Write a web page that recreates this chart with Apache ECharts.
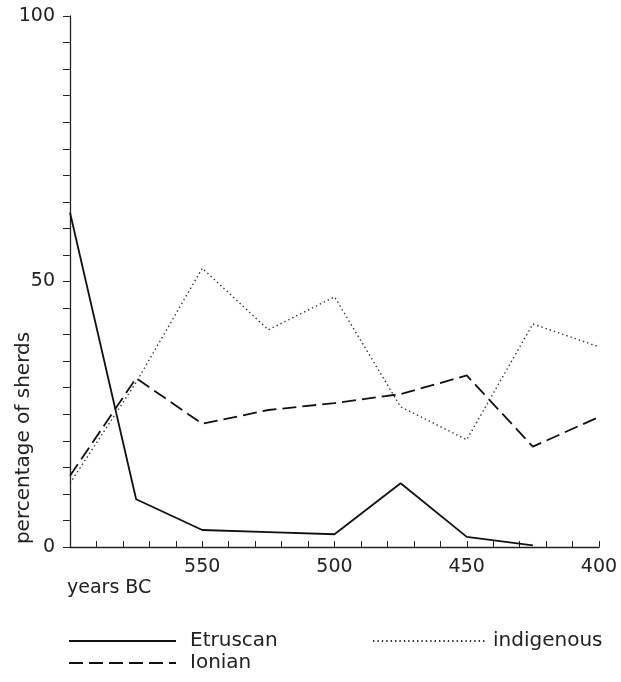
<!DOCTYPE html>
<html>
<head>
<meta charset="utf-8">
<script src="https://cdn.jsdelivr.net/npm/echarts@6/dist/echarts.min.js"></script>
<style>html,body{margin:0;padding:0;background:#fff}#c{width:621px;height:682px}</style>
</head>
<body>
<div id="c"></div>
<script>
var years = [600, 575, 550, 525, 500, 475, 450, 425, 400];
var etruscan = [63, 9, 3.2, 2.8, 2.4, 12, 1.9, 0.3, null];
var ionian = [13.4, 31.8, 23.2, 25.8, 27.1, 28.8, 32.3, 18.9, 24.5];
var indigenous = [12, 31, 52.5, 40.9, 47.1, 26.4, 20.2, 42, 37.7];
var xTickLabels = ['550', '500', '450', '400'];
var yTickLabels = ['0', '50', '100'];

function pairs(vals) {
  return years.map(function (y, i) { return [y, vals[i]]; });
}
var FONT = 'DejaVu Sans';
var TXT = '#222';
var chart = echarts.init(document.getElementById('c'), null, {renderer: 'canvas'});
chart.setOption({
  backgroundColor: '#fff',
  animation: false,
  textStyle: {fontFamily: FONT},
  grid: {left: 70, right: 22, top: 16, bottom: 135},
  xAxis: {
    type: 'value', min: 400, max: 600, interval: 50, inverse: true,
    axisLine: {lineStyle: {color: '#222', width: 1.3}},
    axisTick: {show: true, inside: true, length: 6, lineStyle: {color: '#222', width: 1}},
    minorTick: {show: true, splitNumber: 5, length: 6, lineStyle: {color: '#222', width: 1}},
    splitLine: {show: false},
    axisLabel: {
      color: TXT, fontSize: 19, fontFamily: FONT, margin: 11,
      formatter: function (v) { var s = String(v); return xTickLabels.indexOf(s) >= 0 ? s : ''; }
    }
  },
  yAxis: {
    type: 'value', min: 0, max: 100, interval: 50,
    axisLine: {show: true, lineStyle: {color: '#222', width: 1.3}},
    axisTick: {show: true, inside: false, length: 7, lineStyle: {color: '#222', width: 1}},
    minorTick: {show: true, splitNumber: 10, length: 7, lineStyle: {color: '#222', width: 1}},
    splitLine: {show: false},
    axisLabel: {
      color: TXT, fontSize: 19, fontFamily: FONT, margin: 15,
      formatter: function (v) { var s = String(v); return yTickLabels.indexOf(s) >= 0 ? s : ''; }
    }
  },
  legend: [
    {
      data: ['Etruscan', 'Ionian'], orient: 'vertical', left: 68, top: 631, padding: 0,
      itemWidth: 107, itemHeight: 14, itemGap: 2,
      itemStyle: {color: 'rgba(0,0,0,0)', opacity: 0, borderWidth: 0},
      textStyle: {color: TXT, fontSize: 20, fontFamily: FONT, padding: [0, 0, 0, 9]}
    },
    {
      data: ['indigenous'], orient: 'vertical', left: 372, top: 631, padding: 0,
      itemWidth: 114, itemHeight: 14, itemGap: 2,
      itemStyle: {color: 'rgba(0,0,0,0)', opacity: 0, borderWidth: 0},
      textStyle: {color: TXT, fontSize: 20, fontFamily: FONT, padding: [0, 0, 0, 1]}
    }
  ],
  graphic: [
    {type: 'text', x: 24, y: 438, rotation: Math.PI / 2,
     style: {text: 'percentage of sherds', fill: TXT, font: '20px "DejaVu Sans"', align: 'center', verticalAlign: 'middle'}},
    {type: 'text', left: 67, top: 579,
     style: {text: 'years BC', fill: TXT, font: '19px "DejaVu Sans"'}}
  ],
  series: [
    {name: 'Etruscan', type: 'line', data: pairs(etruscan), symbol: 'none', connectNulls: false,
     lineStyle: {color: '#111', width: 1.8, type: 'solid'}, itemStyle: {color: '#111'}},
    {name: 'Ionian', type: 'line', data: pairs(ionian), symbol: 'none',
     lineStyle: {color: '#111', width: 1.8, type: [14, 6]}, itemStyle: {color: '#111'}},
    {name: 'indigenous', type: 'line', data: pairs(indigenous), symbol: 'none',
     lineStyle: {color: '#333', width: 1.4, type: [1.4, 3]}, itemStyle: {color: '#333'}}
  ]
});
</script>
</body>
</html>
